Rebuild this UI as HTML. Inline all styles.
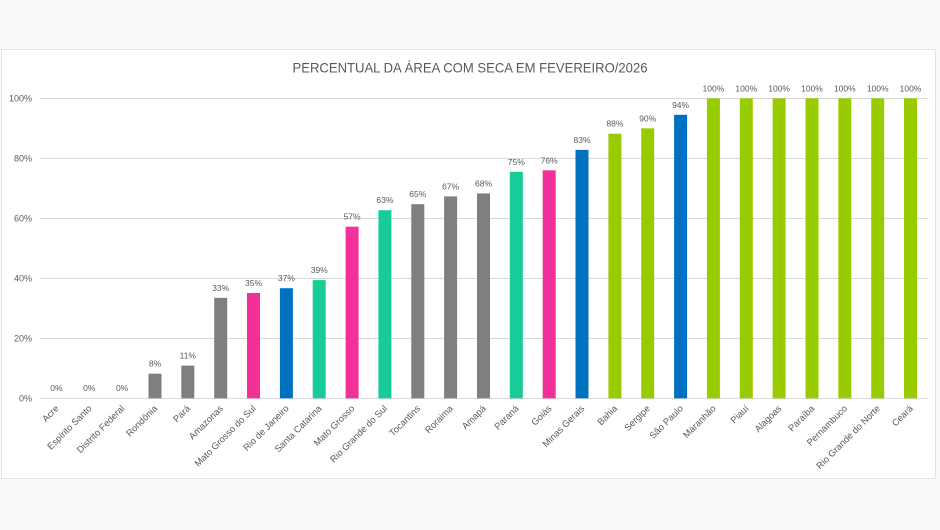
<!DOCTYPE html>
<html>
<head>
<meta charset="utf-8">
<style>
  html, body { margin:0; padding:0; background:#fbfaf8; }
  svg { display:block; }
  text { font-family: "Liberation Sans", "DejaVu Sans", sans-serif; fill:#595959; }
</style>
</head>
<body>
<svg width="940" height="530" viewBox="0 0 940 530" xmlns="http://www.w3.org/2000/svg">
  <rect x="0" y="0" width="940" height="530" fill="#fbfaf8"/>
  <rect x="1.5" y="49.5" width="934" height="429" fill="#ffffff" stroke="#e3e3e3" stroke-width="1"/>

  <text x="470" y="72.5" font-size="14" text-anchor="middle" textLength="355" lengthAdjust="spacingAndGlyphs">PERCENTUAL DA ÁREA COM SECA EM FEVEREIRO/2026</text>

  <!-- gridlines -->
  <g stroke="#d9d9d9" stroke-width="1">
    <line x1="40" y1="98.5" x2="927.5" y2="98.5"/>
    <line x1="40" y1="158.5" x2="927.5" y2="158.5"/>
    <line x1="40" y1="218.5" x2="927.5" y2="218.5"/>
    <line x1="40" y1="278.5" x2="927.5" y2="278.5"/>
    <line x1="40" y1="338.5" x2="927.5" y2="338.5"/>
    <line x1="40" y1="398.5" x2="927.5" y2="398.5"/>
  </g>

  <!-- y axis labels -->
  <g font-size="9" text-anchor="end">
    <text x="32" y="101.5">100%</text>
    <text x="32" y="161.5">80%</text>
    <text x="32" y="221.5">60%</text>
    <text x="32" y="281.5">40%</text>
    <text x="32" y="341.5">20%</text>
    <text x="32" y="401.5">0%</text>
  </g>

  <!-- bars -->
  <g>
    <rect x="148.5" y="373.7" width="13" height="24.6" fill="#7f7f7f"/>
    <rect x="181.3" y="365.6" width="13" height="32.7" fill="#7f7f7f"/>
    <rect x="214.2" y="297.8" width="13" height="100.5" fill="#7f7f7f"/>
    <rect x="247.0" y="293.0" width="13" height="105.3" fill="#f2309a"/>
    <rect x="279.9" y="288.2" width="13" height="110.1" fill="#0070c0"/>
    <rect x="312.7" y="280.1" width="13" height="118.2" fill="#17cc98"/>
    <rect x="345.6" y="226.7" width="13" height="171.6" fill="#f2309a"/>
    <rect x="378.4" y="210.2" width="13" height="188.1" fill="#17cc98"/>
    <rect x="411.3" y="204.2" width="13" height="194.1" fill="#7f7f7f"/>
    <rect x="444.1" y="196.4" width="13" height="201.9" fill="#7f7f7f"/>
    <rect x="477.0" y="193.4" width="13" height="204.9" fill="#7f7f7f"/>
    <rect x="509.8" y="171.8" width="13" height="226.5" fill="#17cc98"/>
    <rect x="542.7" y="170.3" width="13" height="228.0" fill="#f2309a"/>
    <rect x="575.5" y="149.9" width="13" height="248.4" fill="#0070c0"/>
    <rect x="608.4" y="133.7" width="13" height="264.6" fill="#99cc00"/>
    <rect x="641.2" y="128.3" width="13" height="270.0" fill="#99cc00"/>
    <rect x="674.1" y="114.8" width="13" height="283.5" fill="#0070c0"/>
    <rect x="706.9" y="98.3" width="13" height="300" fill="#99cc00"/>
    <rect x="739.8" y="98.3" width="13" height="300" fill="#99cc00"/>
    <rect x="772.6" y="98.3" width="13" height="300" fill="#99cc00"/>
    <rect x="805.5" y="98.3" width="13" height="300" fill="#99cc00"/>
    <rect x="838.3" y="98.3" width="13" height="300" fill="#99cc00"/>
    <rect x="871.2" y="98.3" width="13" height="300" fill="#99cc00"/>
    <rect x="904.0" y="98.3" width="13" height="300" fill="#99cc00"/>
  </g>

  <!-- value labels -->
  <g font-size="8.5" text-anchor="middle">
    <text x="56.4" y="391">0%</text>
    <text x="89.3" y="391">0%</text>
    <text x="122.1" y="391">0%</text>
    <text x="155.0" y="366.7">8%</text>
    <text x="187.8" y="358.6">11%</text>
    <text x="220.7" y="290.8">33%</text>
    <text x="253.5" y="286">35%</text>
    <text x="286.4" y="281.2">37%</text>
    <text x="319.2" y="273.1">39%</text>
    <text x="352.1" y="219.7">57%</text>
    <text x="384.9" y="203.2">63%</text>
    <text x="417.8" y="197.2">65%</text>
    <text x="450.6" y="189.4">67%</text>
    <text x="483.5" y="186.4">68%</text>
    <text x="516.3" y="164.8">75%</text>
    <text x="549.2" y="163.3">76%</text>
    <text x="582.0" y="142.9">83%</text>
    <text x="614.9" y="126.7">88%</text>
    <text x="647.7" y="121.3">90%</text>
    <text x="680.6" y="107.8">94%</text>
    <text x="713.4" y="91.3">100%</text>
    <text x="746.3" y="91.3">100%</text>
    <text x="779.1" y="91.3">100%</text>
    <text x="812.0" y="91.3">100%</text>
    <text x="844.8" y="91.3">100%</text>
    <text x="877.7" y="91.3">100%</text>
    <text x="910.5" y="91.3">100%</text>
  </g>

  <!-- category labels -->
  <g font-size="9.3" text-anchor="end">
    <text transform="translate(59.4,409) rotate(-45)">Acre</text>
    <text transform="translate(92.3,409) rotate(-45)">Espírito Santo</text>
    <text transform="translate(125.1,409) rotate(-45)">Distrito Federal</text>
    <text transform="translate(158.0,409) rotate(-45)">Rondônia</text>
    <text transform="translate(190.8,409) rotate(-45)">Pará</text>
    <text transform="translate(223.7,409) rotate(-45)">Amazonas</text>
    <text transform="translate(256.5,409) rotate(-45)">Mato Grosso do Sul</text>
    <text transform="translate(289.4,409) rotate(-45)">Rio de Janeiro</text>
    <text transform="translate(322.2,409) rotate(-45)">Santa Catarina</text>
    <text transform="translate(355.1,409) rotate(-45)">Mato Grosso</text>
    <text transform="translate(387.9,409) rotate(-45)">Rio Grande do Sul</text>
    <text transform="translate(420.8,409) rotate(-45)">Tocantins</text>
    <text transform="translate(453.6,409) rotate(-45)">Roraima</text>
    <text transform="translate(486.5,409) rotate(-45)">Amapá</text>
    <text transform="translate(519.3,409) rotate(-45)">Paraná</text>
    <text transform="translate(552.2,409) rotate(-45)">Goiás</text>
    <text transform="translate(585.0,409) rotate(-45)">Minas Gerais</text>
    <text transform="translate(617.9,409) rotate(-45)">Bahia</text>
    <text transform="translate(650.7,409) rotate(-45)">Sergipe</text>
    <text transform="translate(683.6,409) rotate(-45)">São Paulo</text>
    <text transform="translate(716.4,409) rotate(-45)">Maranhão</text>
    <text transform="translate(749.3,409) rotate(-45)">Piauí</text>
    <text transform="translate(782.1,409) rotate(-45)">Alagoas</text>
    <text transform="translate(815.0,409) rotate(-45)">Paraíba</text>
    <text transform="translate(847.8,409) rotate(-45)">Pernambuco</text>
    <text transform="translate(880.7,409) rotate(-45)">Rio Grande do Norte</text>
    <text transform="translate(913.5,409) rotate(-45)">Ceará</text>
  </g>
</svg>
</body>
</html>
